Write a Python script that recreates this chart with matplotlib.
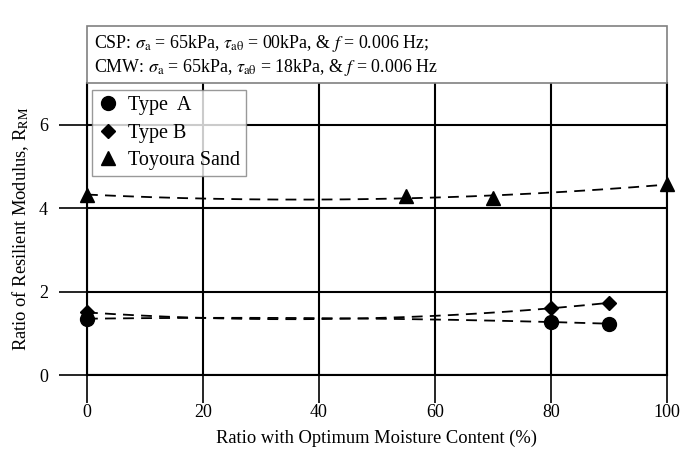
import numpy as np
import matplotlib
matplotlib.use("Agg")
import matplotlib.pyplot as plt
from matplotlib.patches import Rectangle

plt.rcParams['font.family'] = ['Liberation Serif', 'DejaVu Serif']
plt.rcParams['mathtext.fontset'] = 'stix'

# Moisture ratio (%) and resilient modulus ratio for each material
type_a_x = [0, 80, 90]
type_a_y = [1.35, 1.27, 1.23]
type_b_x = [0, 80, 90]
type_b_y = [1.50, 1.60, 1.73]
toyoura_x = [0, 55, 70, 100]
toyoura_y = [4.32, 4.29, 4.24, 4.58]

x_ticks = [0, 20, 40, 60, 80, 100]
y_ticks = [0, 2, 4, 6]

fig = plt.figure(figsize=(6.98, 4.58), dpi=100)
ax = fig.add_axes([0.1246, 0.1812, 0.831, 0.6376])

series = [
    (type_a_x, type_a_y, 'o', 10, 'Type  A'),
    (type_b_x, type_b_y, 'D', 7.5, 'Type B'),
    (toyoura_x, toyoura_y, '^', 10, 'Toyoura Sand'),
]
for xs, ys, mk, ms, lab in series:
    ax.plot(xs, ys, linestyle='none', marker=mk, markersize=ms, color='black',
            label=lab, clip_on=False, zorder=5)
    coef = np.polyfit(xs, ys, 2)
    xf = np.linspace(min(xs), max(xs), 200)
    ax.plot(xf, np.polyval(coef, xf), color='black', linestyle=(0, (6, 4)), linewidth=1.3)

ax.set_xlim(0, 100)
ax.set_ylim(0, 7)
ax.set_xticks(x_ticks)
ax.set_yticks(y_ticks)
ax.grid(True, color='black', linewidth=1.5)
ax.set_axisbelow(True)
for side in ['left', 'bottom', 'right']:
    ax.spines[side].set_linewidth(1.5)
ax.spines['top'].set_visible(False)
ax.tick_params(axis='both', direction='out', length=20, width=1.2, labelsize=13)
ax.tick_params(axis='x', pad=1)
ax.tick_params(axis='y', pad=8)

ax.set_xlabel('Ratio with Optimum Moisture Content (%)', fontsize=13.3, labelpad=6)
ax.set_ylabel(r'Ratio of Resilient Modulus, R$_{\rm RM}$', fontsize=13.3, labelpad=6)

leg = ax.legend(loc='upper left', bbox_to_anchor=(0.008, 0.975), fontsize=14.5, frameon=True,
                fancybox=False, edgecolor='#808080', handletextpad=0.5, borderpad=0.3,
                labelspacing=0.4, handlelength=1.0, borderaxespad=0.0)
leg.get_frame().set_linewidth(1.0)

# Test condition box above the plot area
box = Rectangle((0.1246, 0.8188), 0.831, 0.1244, transform=fig.transFigure,
                facecolor='white', edgecolor='#808080', linewidth=1.2)
fig.add_artist(box)
fig.text(0.1346, 0.906,
         r'CSP: $\sigma_{\rm a}$ = 65kPa, $\tau_{\rm a\theta}$ = 00kPa, & $f$ = 0.006 Hz;',
         fontsize=12.9, va='center', ha='left')
fig.text(0.1346, 0.853,
         r'CMW: $\sigma_{\rm a}$ = 65kPa, $\tau_{\rm a\theta}$ = 18kPa, & $f$ = 0.006 Hz',
         fontsize=12.9, va='center', ha='left')

fig.savefig('out.png', dpi=100)
